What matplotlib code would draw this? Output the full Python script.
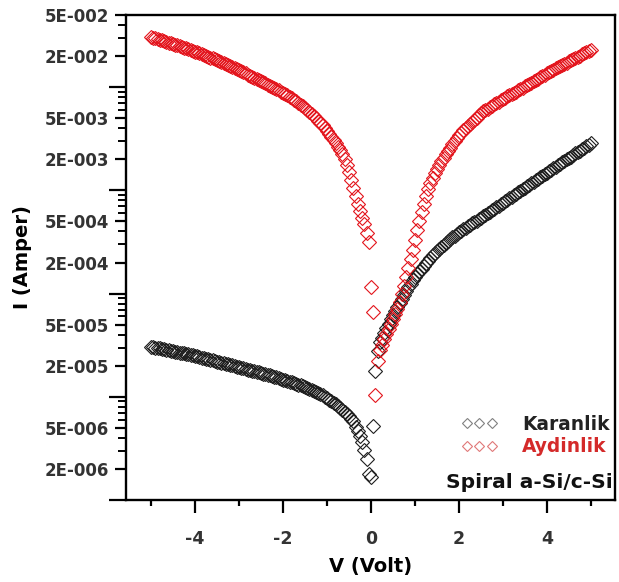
"""I-V curves of spiral a-Si/c-Si cell, dark vs. illuminated (log scale)."""

import numpy as np
import matplotlib
matplotlib.use("Agg")
import matplotlib.pyplot as plt
from matplotlib.lines import Line2D
from matplotlib.ticker import FixedLocator, FuncFormatter

plt.rcParams["font.family"] = ["DejaVu Sans"]
plt.rcParams["font.weight"] = "bold"
plt.rcParams["axes.unicode_minus"] = False

# voltage sweep, -5 V .. +5 V in 0.05 V steps (201 points)
volt = np.round(np.linspace(-5.0, 5.0, 201), 2)

# dark current |I| (A), V = -5.00 .. 0.00
dark_neg = [
    3.07e-5, 3.04e-5, 3.00e-5, 2.98e-5, 2.95e-5, 2.91e-5, 2.88e-5, 2.86e-5, 2.82e-5, 2.79e-5, 2.76e-5,
    2.74e-5, 2.71e-5, 2.68e-5, 2.65e-5, 2.63e-5, 2.60e-5, 2.57e-5, 2.54e-5, 2.52e-5, 2.49e-5, 2.46e-5,
    2.43e-5, 2.40e-5, 2.37e-5, 2.34e-5, 2.31e-5, 2.28e-5, 2.25e-5, 2.22e-5, 2.19e-5, 2.17e-5, 2.14e-5,
    2.11e-5, 2.08e-5, 2.06e-5, 2.03e-5, 2.01e-5, 1.98e-5, 1.96e-5, 1.93e-5, 1.91e-5, 1.88e-5, 1.86e-5,
    1.83e-5, 1.81e-5, 1.79e-5, 1.76e-5, 1.74e-5, 1.72e-5, 1.69e-5, 1.67e-5, 1.65e-5, 1.63e-5, 1.61e-5,
    1.58e-5, 1.56e-5, 1.54e-5, 1.52e-5, 1.49e-5, 1.47e-5, 1.45e-5, 1.42e-5, 1.40e-5, 1.38e-5,
    1.36e-5, 1.33e-5, 1.31e-5, 1.29e-5, 1.26e-5, 1.24e-5, 1.21e-5, 1.19e-5, 1.16e-5, 1.14e-5,
    1.11e-5, 1.09e-5, 1.06e-5, 1.03e-5, 1.00e-5,
    9.71e-6, 9.40e-6, 9.09e-6, 8.77e-6, 8.45e-6, 8.14e-6, 7.82e-6, 7.50e-6, 7.16e-6, 6.82e-6,
    6.48e-6, 6.13e-6, 5.76e-6,
    5.11e-6, 4.68e-6, 4.19e-6, 3.67e-6, 3.07e-6, 2.52e-6, 1.77e-6, 1.65e-6,
]
# dark current |I| (A), V = 0.05 .. 5.00
dark_pos = [
    5.23e-6, 1.77e-5, 2.75e-5, 3.36e-5, 3.75e-5, 4.19e-5, 4.63e-5, 5.11e-5, 5.65e-5, 6.24e-5,
    6.82e-5, 7.45e-5, 8.14e-5, 8.89e-5, 9.71e-5, 1.06e-4, 1.16e-4, 1.25e-4, 1.35e-4, 1.45e-4,
    1.55e-4, 1.65e-4, 1.75e-4, 1.86e-4, 1.98e-4, 2.09e-4, 2.21e-4, 2.34e-4, 2.46e-4, 2.59e-4,
    2.72e-4, 2.85e-4, 2.98e-4, 3.12e-4, 3.25e-4, 3.39e-4, 3.52e-4, 3.65e-4, 3.79e-4, 3.92e-4,
    4.05e-4, 4.19e-4, 4.33e-4, 4.48e-4, 4.63e-4, 4.78e-4, 4.94e-4, 5.11e-4, 5.28e-4, 5.46e-4,
    5.65e-4, 5.84e-4, 6.04e-4, 6.24e-4, 6.45e-4, 6.67e-4, 6.90e-4, 7.13e-4, 7.37e-4, 7.62e-4,
    7.87e-4, 8.14e-4, 8.41e-4, 8.70e-4, 8.99e-4, 9.30e-4, 9.61e-4, 9.93e-4, 1.03e-3, 1.06e-3,
    1.10e-3, 1.13e-3, 1.17e-3, 1.21e-3, 1.25e-3, 1.30e-3, 1.34e-3, 1.38e-3, 1.43e-3, 1.48e-3,
    1.53e-3, 1.58e-3, 1.64e-3, 1.69e-3, 1.75e-3, 1.81e-3, 1.87e-3, 1.93e-3, 2.00e-3, 2.06e-3,
    2.13e-3, 2.20e-3, 2.28e-3, 2.36e-3, 2.43e-3, 2.52e-3, 2.60e-3, 2.69e-3, 2.78e-3, 2.88e-3,
]
# illuminated current |I| (A), V = -5.00 .. 0.00
light_neg = [
    3.07e-2, 3.02e-2, 2.98e-2, 2.93e-2, 2.89e-2, 2.84e-2, 2.80e-2, 2.76e-2, 2.71e-2, 2.67e-2,
    2.63e-2, 2.59e-2, 2.54e-2, 2.51e-2, 2.46e-2,
    2.42e-2, 2.38e-2, 2.33e-2, 2.29e-2, 2.25e-2, 2.21e-2, 2.18e-2, 2.14e-2, 2.10e-2, 2.06e-2,
    2.02e-2, 1.98e-2, 1.94e-2, 1.90e-2, 1.87e-2,
    1.83e-2, 1.79e-2, 1.76e-2, 1.72e-2, 1.68e-2, 1.65e-2, 1.61e-2, 1.57e-2, 1.54e-2, 1.50e-2,
    1.47e-2, 1.43e-2, 1.40e-2, 1.36e-2, 1.32e-2,
    1.29e-2, 1.26e-2, 1.23e-2, 1.20e-2, 1.17e-2, 1.14e-2, 1.12e-2, 1.09e-2, 1.06e-2, 1.03e-2,
    1.01e-2, 9.82e-3, 9.56e-3, 9.31e-3, 9.09e-3,
    8.83e-3, 8.58e-3, 8.32e-3, 8.06e-3, 7.82e-3, 7.56e-3, 7.30e-3, 7.05e-3, 6.79e-3, 6.52e-3, 6.27e-3,
    6.01e-3, 5.76e-3, 5.51e-3, 5.26e-3, 5.01e-3, 4.76e-3, 4.52e-3, 4.27e-3, 4.03e-3,
    3.79e-3, 3.56e-3, 3.33e-3, 3.10e-3, 2.87e-3, 2.65e-3, 2.44e-3, 2.23e-3,
    2.00e-3, 1.75e-3, 1.50e-3, 1.25e-3,
    1.06e-3, 8.89e-4, 7.45e-4, 6.38e-4, 5.46e-4, 4.68e-4, 3.83e-4, 3.14e-4,
    1.16e-4,
]
# illuminated current |I| (A), V = 0.05 .. 5.00
light_pos = [
    6.67e-5, 1.04e-5, 2.20e-5,
    2.87e-5, 3.21e-5, 3.59e-5, 4.10e-5, 4.57e-5, 5.11e-5, 5.71e-5, 6.38e-5, 7.12e-5,
    8.32e-5, 9.93e-5, 1.19e-4, 1.45e-4, 1.77e-4, 2.16e-4, 2.63e-4, 3.28e-4,
    4.10e-4, 5.11e-4, 6.24e-4, 7.45e-4, 8.89e-4, 1.04e-3, 1.19e-3, 1.32e-3, 1.48e-3, 1.62e-3,
    1.77e-3, 1.93e-3, 2.06e-3, 2.23e-3, 2.41e-3, 2.60e-3, 2.81e-3, 3.00e-3, 3.21e-3, 3.43e-3,
    3.62e-3, 3.81e-3, 4.01e-3, 4.21e-3, 4.42e-3, 4.64e-3, 4.86e-3, 5.09e-3, 5.33e-3, 5.59e-3,
    5.84e-3, 6.02e-3, 6.21e-3, 6.41e-3, 6.61e-3, 6.82e-3, 7.03e-3, 7.25e-3, 7.46e-3, 7.68e-3,
    7.91e-3, 8.14e-3, 8.38e-3, 8.62e-3, 8.85e-3, 9.09e-3, 9.36e-3, 9.63e-3, 9.91e-3, 1.02e-2,
    1.05e-2, 1.08e-2, 1.11e-2, 1.14e-2, 1.18e-2, 1.21e-2, 1.25e-2, 1.28e-2, 1.32e-2, 1.36e-2,
    1.40e-2, 1.44e-2, 1.48e-2, 1.52e-2, 1.56e-2, 1.60e-2, 1.64e-2, 1.69e-2, 1.73e-2, 1.78e-2,
    1.83e-2, 1.87e-2, 1.93e-2, 1.98e-2, 2.03e-2, 2.09e-2, 2.14e-2, 2.20e-2, 2.25e-2, 2.31e-2,
]

labels = ["Karanlik", "Aydinlik"]
sample = "Spiral a-Si/c-Si"

RED = "#e3141c"
BLACK = "#1e1e1e"


def is_decade(v):
    lg = np.log10(v)
    return abs(lg - round(lg)) < 1e-6


def sci_label(v, pos):
    if is_decade(v):
        return ""
    m, e = f"{v:.0e}".split("e")
    return f"{m}E-{abs(int(e)):03d}"


def main():
    dark = np.array(dark_neg + dark_pos)
    light = np.array(light_neg + light_pos)

    fig = plt.figure(figsize=(6.19, 5.82), dpi=100)
    ax = fig.add_axes([0.2036, 0.141, 0.79, 0.833])

    ms = 7.2
    ax.plot(volt, dark, ls="none", marker="D", ms=ms, mfc="none", mec=BLACK, mew=0.8)
    ax.plot(volt, light, ls="none", marker="D", ms=ms, mfc="none", mec=RED, mew=0.8)

    ax.set_yscale("log")
    ax.set_ylim(1e-6, 5e-2)
    ax.set_xlim(-5.57, 5.55)

    # y ticks: labelled at 2 and 5, long unlabelled ticks at decades
    decades = [10.0 ** k for k in range(-6, -1)]
    labelled = [m * 10.0 ** k for k in range(-6, -1) for m in (2, 5)]
    minor = [m * 10.0 ** k for k in range(-6, -1) for m in (3, 4, 6, 7, 8, 9)]
    major_locs = sorted(decades + labelled)
    ax.yaxis.set_major_locator(FixedLocator(major_locs))
    ax.yaxis.set_minor_locator(FixedLocator(minor))
    ax.yaxis.set_major_formatter(FuncFormatter(sci_label))
    ax.yaxis.set_minor_formatter(FuncFormatter(lambda v, p: ""))
    ax.tick_params(axis="y", which="major", length=8, width=1.6, direction="out", labelsize=12, pad=4)
    ax.tick_params(axis="y", which="minor", length=5.5, width=1.4, direction="out")
    for t, loc in zip(ax.yaxis.get_major_ticks(len(major_locs)), major_locs):
        if is_decade(loc):
            t.tick1line.set_markersize(12)

    ax.set_xticks([-4, -2, 0, 2, 4])
    ax.set_xticks([-5, -3, -1, 1, 3, 5], minor=True)
    ax.tick_params(axis="x", which="major", length=9, width=1.6, direction="out", labelsize=12.5, pad=13)
    ax.tick_params(axis="x", which="minor", length=4.5, width=1.6, direction="out")
    for lab in ax.get_xticklabels() + ax.get_yticklabels():
        lab.set_fontweight("bold")
        lab.set_color("#333333")

    for s in ax.spines.values():
        s.set_linewidth(1.7)

    ax.set_xlabel("V (Volt)", fontsize=14, fontweight="bold", labelpad=6)
    ax.set_ylabel("I (Amper)", fontsize=14, fontweight="bold", labelpad=9)

    handles = [
        Line2D([], [], ls="none", marker="D", ms=5, mfc="none", mec="#808080", mew=0.8),
        Line2D([], [], ls="none", marker="D", ms=5, mfc="none", mec="#e07878", mew=0.8),
    ]
    leg = ax.legend(handles, labels, loc="center right", bbox_to_anchor=(1.0, 0.133),
                    numpoints=3, frameon=False, fontsize=13.4, handlelength=1.95,
                    handletextpad=1.3, labelspacing=0.2, borderaxespad=0, borderpad=0.3)
    leg.get_texts()[0].set_color("#222222")
    leg.get_texts()[1].set_color("#d42a2a")
    ax.text(0.995, 0.037, sample, transform=ax.transAxes, ha="right", va="center",
            fontsize=14.5, fontweight="bold", color="#111111")

    fig.savefig("out.png", dpi=100)
    plt.close(fig)


if __name__ == "__main__":
    main()
